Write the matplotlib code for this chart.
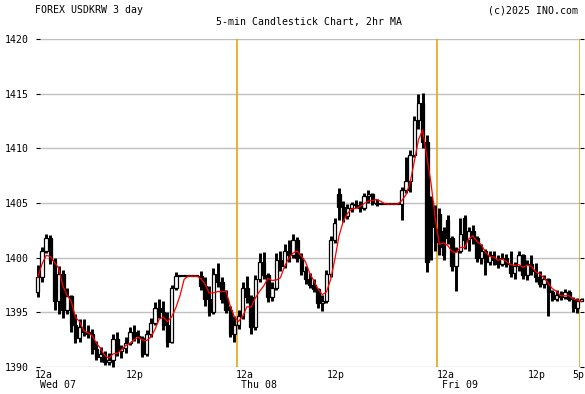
import numpy as np
import pandas as pd
import matplotlib
matplotlib.use("Agg")
import matplotlib.pyplot as plt
from matplotlib import transforms

# ---- data: 30-minute OHLC (hours from Wed 00:00) ----
opens = [1396.8, 1398.2, 1400.6, 1401.8, 1399.8, 1396.0, 1398.5, 1395.2, 1396.5, 1393.8,
         1392.6, 1393.6, 1393.2, 1393.0, 1391.6, 1390.9, 1391.2, 1390.4, 1390.6, 1392.5,
         1391.4, 1391.7, 1392.2, 1393.2, 1392.8, 1392.6, 1391.2, 1393.0, 1394.0, 1395.4,
         1395.0, 1393.8, 1392.3, 1397.2, 1398.3, 1398.3, 1398.3, 1398.3, 1398.3, 1398.3,
         1397.4, 1396.2, 1395.0, 1398.5, 1397.8, 1396.2, 1395.2, 1393.0, 1393.8, 1394.6,
         1397.2, 1396.4, 1393.6, 1398.0, 1399.6, 1398.4, 1396.4, 1397.2, 1399.8, 1399.2,
         1400.6, 1400.2, 1401.6, 1400.0, 1398.8, 1398.0, 1397.5, 1397.1, 1395.8, 1396.0,
         1398.5, 1401.6, 1405.8, 1404.6, 1403.8, 1404.5, 1404.9, 1404.8, 1404.5, 1405.6,
         1405.8, 1405.0, 1404.9, 1404.9, 1404.9, 1404.9, 1404.9, 1404.9, 1406.2, 1407.0,
         1409.4, 1412.6, 1414.2, 1410.6, 1405.2, 1402.6, 1404.0, 1402.4, 1403.4, 1401.8,
         1399.2, 1400.6, 1403.6, 1401.6, 1402.4, 1401.8, 1400.0, 1400.6, 1399.6, 1400.2,
         1399.8, 1399.4, 1400.0, 1399.4, 1398.6, 1399.2, 1400.2, 1398.4, 1399.4, 1398.8,
         1398.2, 1397.6, 1398.0, 1396.8, 1396.2, 1396.6, 1396.4, 1396.8, 1396.2, 1395.4,
         1396.0]
highs = [1399.3, 1401.0, 1402.2, 1402.1, 1400.0, 1399.2, 1398.9, 1397.2, 1396.6, 1394.8,
         1394.4, 1394.4, 1393.8, 1393.5, 1392.4, 1391.8, 1391.4, 1391.3, 1393.0, 1393.2,
         1392.0, 1392.7, 1393.6, 1393.8, 1393.4, 1392.8, 1393.4, 1394.5, 1395.9, 1396.2,
         1396.0, 1395.0, 1397.5, 1398.7, 1398.3, 1398.3, 1398.3, 1398.3, 1398.3, 1398.8,
         1398.2, 1397.4, 1399.0, 1399.5, 1398.2, 1397.0, 1395.6, 1394.6, 1395.2, 1397.8,
         1398.3, 1396.6, 1398.4, 1400.4, 1400.5, 1398.6, 1397.8, 1400.4, 1400.6, 1401.2,
         1401.6, 1402.2, 1401.9, 1400.4, 1399.2, 1398.6, 1398.0, 1397.2, 1396.6, 1398.9,
         1402.0, 1403.6, 1406.4, 1405.2, 1404.9, 1405.1, 1405.3, 1405.2, 1405.9, 1406.2,
         1405.9, 1405.4, 1404.9, 1404.9, 1404.9, 1404.9, 1404.9, 1406.5, 1409.2, 1409.9,
         1413.0, 1415.0, 1415.1, 1411.2, 1405.6, 1404.8, 1404.5, 1402.8, 1403.9, 1402.0,
         1401.0, 1403.6, 1403.9, 1402.8, 1403.0, 1402.0, 1401.2, 1400.8, 1400.6, 1400.6,
         1400.2, 1400.4, 1400.3, 1400.6, 1399.6, 1400.6, 1400.3, 1399.8, 1400.2, 1399.5,
         1398.8, 1398.4, 1398.1, 1397.0, 1397.0, 1396.9, 1397.1, 1397.0, 1396.4, 1396.3,
         1396.3]
lows = [1396.4, 1397.8, 1400.4, 1399.4, 1395.2, 1394.8, 1394.5, 1394.8, 1393.2, 1392.2,
        1392.3, 1392.8, 1392.6, 1391.2, 1390.6, 1390.4, 1390.2, 1390.2, 1390.0, 1391.0,
        1390.8, 1391.3, 1392.0, 1392.4, 1392.2, 1390.9, 1391.0, 1392.7, 1393.8, 1394.5,
        1393.4, 1391.8, 1392.2, 1397.0, 1398.3, 1398.3, 1398.3, 1398.3, 1398.3, 1397.0,
        1395.6, 1394.6, 1394.8, 1397.3, 1395.8, 1394.9, 1392.7, 1392.3, 1393.5, 1394.4,
        1395.8, 1393.0, 1393.4, 1397.8, 1398.0, 1395.9, 1396.0, 1397.0, 1398.8, 1399.0,
        1399.6, 1400.0, 1399.6, 1398.4, 1397.6, 1397.2, 1396.8, 1395.4, 1395.1, 1395.8,
        1398.2, 1401.3, 1403.4, 1403.3, 1403.5, 1404.2, 1404.5, 1404.2, 1404.4, 1405.0,
        1404.8, 1404.7, 1404.9, 1404.9, 1404.9, 1404.9, 1404.9, 1403.4, 1405.9, 1406.0,
        1409.2, 1411.8, 1410.0, 1398.7, 1399.8, 1400.6, 1400.2, 1399.8, 1401.2, 1398.8,
        1396.9, 1400.4, 1400.8, 1400.6, 1401.2, 1399.6, 1399.4, 1398.4, 1399.3, 1399.3,
        1399.0, 1399.2, 1399.1, 1398.2, 1398.0, 1398.8, 1398.0, 1397.9, 1398.4, 1397.8,
        1397.3, 1397.2, 1394.6, 1396.0, 1396.0, 1396.1, 1396.2, 1396.0, 1395.0, 1394.9,
        1396.0]
closes = [1398.2, 1400.6, 1401.8, 1399.8, 1396.0, 1398.5, 1395.2, 1396.5, 1393.8, 1392.6,
          1393.6, 1393.2, 1393.0, 1391.6, 1390.9, 1391.2, 1390.4, 1390.6, 1392.5, 1391.4,
          1391.7, 1392.2, 1393.2, 1392.8, 1392.6, 1391.2, 1393.0, 1394.0, 1395.4, 1395.0,
          1393.8, 1392.3, 1397.2, 1398.3, 1398.3, 1398.3, 1398.3, 1398.3, 1398.3, 1397.4,
          1396.2, 1395.0, 1398.5, 1397.8, 1396.2, 1395.2, 1393.0, 1393.8, 1394.6, 1397.2,
          1396.4, 1393.6, 1398.0, 1399.6, 1398.4, 1396.4, 1397.2, 1399.8, 1399.2, 1400.6,
          1400.2, 1401.6, 1400.0, 1398.8, 1398.0, 1397.5, 1397.1, 1395.8, 1396.0, 1398.5,
          1401.6, 1403.2, 1404.6, 1403.8, 1404.5, 1404.9, 1404.8, 1404.5, 1405.6, 1405.8,
          1405.0, 1404.9, 1404.9, 1404.9, 1404.9, 1404.9, 1404.9, 1406.2, 1407.0, 1409.4,
          1412.6, 1414.2, 1410.6, 1399.6, 1402.8, 1401.4, 1401.0, 1400.2, 1401.8, 1399.2,
          1400.6, 1402.2, 1401.6, 1402.4, 1401.8, 1400.0, 1400.6, 1399.6, 1400.2, 1399.8,
          1399.4, 1400.0, 1399.4, 1398.6, 1399.2, 1400.2, 1398.4, 1399.4, 1398.8, 1398.2,
          1397.6, 1398.0, 1396.8, 1396.2, 1396.6, 1396.4, 1396.8, 1396.2, 1395.4, 1396.0,
          1396.2]

tick_hours = [0, 12, 24, 36, 48, 60, 65]
tick_labels = ["12a", "12p", "12a", "12p", "12a", "12p", "5p"]
day_hours = [0, 24, 48]
day_labels = ["Wed 07", "Thu 08", "Fri 09"]
day_lines = [24, 48, 65]
y_ticks = [1390, 1395, 1400, 1405, 1410, 1415, 1420]

# ---- figure ----
W, H = 585, 394
fig = plt.figure(figsize=(W / 100, H / 100), dpi=100)
ax = fig.add_axes([40 / W, (H - 366.7) / H, 540 / W, (366.7 - 39.3) / H])

x0, px_per_h = 35.7, 8.367
ax.set_xlim((40 - x0) / px_per_h, (580 - x0) / px_per_h)
ax.set_ylim(1390, 1420)

for s in ax.spines.values():
    s.set_visible(False)

mono = "DejaVu Sans Mono"
fs = 7.1

ax.set_yticks(y_ticks)
ax.set_yticklabels([str(v) for v in y_ticks], fontsize=fs, family=mono)
ax.tick_params(axis="y", length=3.0, width=0.8, pad=5, left=True, right=True,
               labelleft=True, labelright=False, color="black")
ax.set_xticks([])
for v in y_ticks:
    ax.axhline(v, color="#c0c0c0", lw=1.0, zorder=0)

for h in day_lines:
    ax.axvline(h, color="#e39e00", lw=1.1, zorder=1)

# candles
n = len(closes)
t = np.arange(n) * 0.5 + 0.25
o = np.array(opens); c = np.array(closes); hi = np.array(highs); lo = np.array(lows)
ax.vlines(t, lo, hi, color="black", lw=2.1, zorder=2, clip_on=False)
up = c > o
bottom = np.minimum(o, c)
height = np.maximum(np.abs(c - o), 0.08)
bw = 0.40
ax.bar(t[up], height[up], bottom=bottom[up], width=bw, facecolor="white",
       edgecolor="black", linewidth=0.9, zorder=3, clip_on=False)
ax.bar(t[~up], height[~up], bottom=bottom[~up], width=bw, facecolor="black",
       edgecolor="black", linewidth=0.9, zorder=3, clip_on=False)

# 2hr moving average
ma = pd.Series(closes).rolling(4, min_periods=1).mean()
ax.plot(t, ma, color="red", lw=0.9, zorder=4, clip_on=False)

# x labels
bt = transforms.blended_transform_factory(ax.transData, fig.transFigure)
def off(dx):
    return bt + transforms.ScaledTranslation(dx / 100, 0, fig.dpi_scale_trans)
for h, lab in zip(tick_hours, tick_labels):
    if lab == "12a":
        fig.text(h, 1 - 377.7 / H, lab, transform=off(-1.0), ha="left",
                 va="baseline", fontsize=fs, family=mono)
    else:
        fig.text(h, 1 - 377.7 / H, lab, transform=off(-1.0), ha="center",
                 va="baseline", fontsize=fs, family=mono)
for h, lab in zip(day_hours, day_labels):
    fig.text(h, 1 - 388.3 / H, lab, transform=off(4.5), ha="left",
             va="baseline", fontsize=fs, family=mono)

fig.text(35 / W, 1 - 13.3 / H, "FOREX USDKRW 3 day", ha="left", va="baseline",
         fontsize=fs, family=mono)
fig.text(309 / W, 1 - 25 / H, "5-min Candlestick Chart, 2hr MA", ha="center",
         va="baseline", fontsize=fs, family=mono)
fig.text(578.5 / W, 1 - 13.3 / H, "(c)2025 INO.com", ha="right", va="baseline",
         fontsize=fs, family=mono)

fig.savefig("out.png", dpi=100)
